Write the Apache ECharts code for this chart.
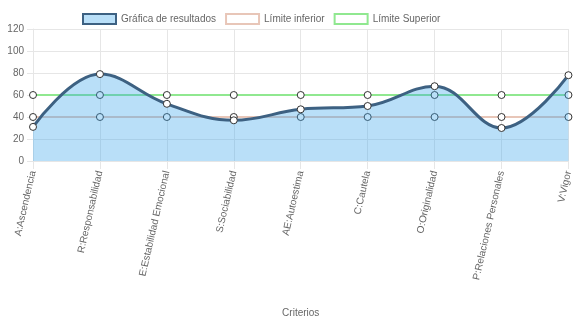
<!DOCTYPE html>
<html><head><meta charset="utf-8">
<script src="https://cdn.jsdelivr.net/npm/echarts@6/dist/echarts.min.js"></script>
<style>html,body{margin:0;padding:0;background:#fff}#c{width:574px;height:323px}</style>
</head><body><div id="c"></div>
<script>
const categories = ['A:Ascendencia','R:Responsabilidad','E:Estabilidad Emocional','S:Sociabilidad','AE:Autoestima','C:Cautela','O:Originalidad','P:Relaciones Personales','V:Vigor'];
const resultados = [31, 79, 52, 37, 47, 50, 68, 30, 78];
const limiteInferior = [40, 40, 40, 40, 40, 40, 40, 40, 40];
const limiteSuperior = [60, 60, 60, 60, 60, 60, 60, 60, 60];
const yTicks = [0, 20, 40, 60, 80, 100, 120];

const FONT = 'Liberation Sans, Arial, sans-serif';
const TXT = '#666';
const GRID = '#e6e6e6';
const chart = echarts.init(document.getElementById('c'), null, {renderer: 'canvas'});
chart.setOption({
  animation: false,
  textStyle: {fontFamily: FONT},
  legend: {
    left: 77, top: 8, itemWidth: 33, itemHeight: 10, itemGap: 9,
    icon: 'rect',
    textStyle: {fontSize: 10, color: TXT, fontFamily: FONT},
    data: [
      {name: 'Gráfica de resultados', itemStyle: {color: 'rgba(54,162,235,0.35)', borderColor: '#3d6182', borderWidth: 2}},
      {name: 'Límite inferior', itemStyle: {color: '#fff', borderColor: '#e8c6b8', borderWidth: 2}},
      {name: 'Límite Superior', itemStyle: {color: '#fff', borderColor: '#90e890', borderWidth: 2}}
    ]
  },
  grid: {left: 33, right: 4, top: 29, bottom: 162, containLabel: false},
  xAxis: {
    type: 'category', data: categories, boundaryGap: false,
    name: 'Criterios', nameLocation: 'middle', nameGap: 147,
    nameTextStyle: {fontSize: 10, color: TXT, fontFamily: FONT},
    axisLine: {show: true, lineStyle: {color: GRID}},
    axisTick: {show: true, length: 8, lineStyle: {color: GRID}, alignWithLabel: true},
    splitLine: {show: true, lineStyle: {color: GRID}},
    axisLabel: {rotate: 77, fontSize: 10, color: TXT, margin: 10, fontFamily: FONT, interval: 0}
  },
  yAxis: {
    type: 'value', min: yTicks[0], max: yTicks[yTicks.length - 1], interval: 20,
    axisLine: {show: true, lineStyle: {color: GRID}},
    axisTick: {show: true, length: 6, lineStyle: {color: GRID}},
    splitLine: {show: true, lineStyle: {color: GRID}},
    axisLabel: {fontSize: 10, color: TXT, margin: 9, fontFamily: FONT}
  },
  series: [
    {
      name: 'Límite inferior', type: 'line', data: limiteInferior, z: 2,
      symbol: 'circle', symbolSize: 7, showAllSymbol: true,
      lineStyle: {color: '#e8c6b8', width: 2},
      itemStyle: {color: '#fff', borderColor: '#333', borderWidth: 1}
    },
    {
      name: 'Límite Superior', type: 'line', data: limiteSuperior, z: 2,
      symbol: 'circle', symbolSize: 7, showAllSymbol: true,
      lineStyle: {color: '#90e890', width: 2},
      itemStyle: {color: '#fff', borderColor: '#333', borderWidth: 1}
    },
    {
      name: 'Gráfica de resultados', type: 'line', data: resultados, z: 3,
      smooth: 0.4, symbol: 'circle', symbolSize: 7, showAllSymbol: true,
      lineStyle: {color: '#3d6182', width: 3},
      areaStyle: {color: 'rgba(54,162,235,0.35)', opacity: 1, origin: 'start'},
      itemStyle: {color: '#fff', borderColor: '#333', borderWidth: 1}
    }
  ]
});
</script></body></html>
